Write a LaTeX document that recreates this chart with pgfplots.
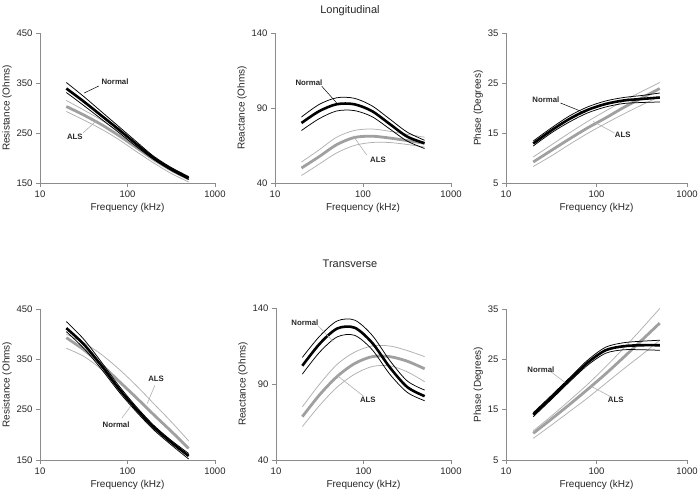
\documentclass[border=0pt]{standalone}
\usepackage{pgfplots}
\pgfplotsset{compat=1.18}
\usepackage{fontspec}
\setmainfont{Liberation Sans}
\definecolor{alsthick}{HTML}{A0A0A0}
\definecolor{alsthin}{HTML}{B0B0B0}
\definecolor{axgray}{HTML}{8C8C8C}
\tikzset{
  nm/.style={black, line width=2.6pt, smooth},
  nb/.style={black, line width=0.75pt, smooth},
  am/.style={alsthick, line width=2.8pt, smooth},
  ab/.style={alsthin, line width=0.75pt, smooth},
  lab/.style={font=\fontsize{7.8}{9}\selectfont\bfseries, text=black!85},
}
\begin{document}
\begin{tikzpicture}
\path[use as bounding box] (0,0) rectangle (699pt,498pt);
\node[font=\fontsize{11}{13}\selectfont, text=black!85] at (350pt,487pt) {Longitudinal};
\node[font=\fontsize{11}{13}\selectfont, text=black!85] at (350pt,234pt) {Transverse};

% ---------- Top left: Resistance, Longitudinal
\begin{axis}[scale only axis, xmode=log, xmin=10, xmax=1000,
    axis x line*=bottom, axis y line*=left,
    axis line style={axgray, line width=0.9pt},
    tick style={axgray, line width=0.9pt},
    major tick length=4pt, tick align=outside,
    xtick={10,100,1000}, xticklabels={10,100,1000}, xminorticks=false, yminorticks=false,
    ticklabel style={font=\fontsize{9.5}{11}\selectfont, text=black!85},
    xlabel style={font=\fontsize{10}{12}\selectfont, text=black!85, yshift=1pt},
    ylabel style={font=\fontsize{10}{12}\selectfont, text=black!85, yshift=-2pt},
    xlabel={Frequency (kHz)}, clip=false,
  at={(40pt,315pt)}, anchor=south west, width=175pt, height=150pt,
  ymin=150, ymax=450, ytick={150,250,350,450}, yticklabels={150,250,350,450}, ylabel={Resistance (Ohms)}]
\addplot[ab] coordinates {(20,315)(31.6,296)(50.1,276)(79.4,253)(125.9,228)(199.5,202)(316.2,180)(500,161)};
\addplot[ab] coordinates {(20,293)(31.6,276)(50.1,258)(79.4,237)(125.9,213)(199.5,190)(316.2,169)(500,152)};
\addplot[am] coordinates {(20,303)(31.6,286)(50.1,267)(79.4,245)(125.9,221)(199.5,197)(316.2,176)(500,158)};
\addplot[nb] coordinates {(20,351)(31.6,323)(50.1,293)(79.4,263)(125.9,233)(199.5,203.5)(316.2,181)(500,163)};
\addplot[nb] coordinates {(20,331)(31.6,305)(50.1,278)(79.4,251)(125.9,223)(199.5,197)(316.2,175)(500,157)};
\addplot[nm] coordinates {(20,339)(31.6,313)(50.1,285)(79.4,257)(125.9,228)(199.5,200)(316.2,178)(500,160)};
\draw[black, line width=0.5pt] (axis cs:47,344) -- (axis cs:32,330);
\node[lab] at (axis cs:72,352) {Normal};
\draw[alsthin, line width=0.6pt] (axis cs:31,250) -- (axis cs:45,276);
\node[lab] at (axis cs:25,242) {ALS};
\end{axis}

% ---------- Top middle: Reactance, Longitudinal
\begin{axis}[scale only axis, xmode=log, xmin=10, xmax=1000,
    axis x line*=bottom, axis y line*=left,
    axis line style={axgray, line width=0.9pt},
    tick style={axgray, line width=0.9pt},
    major tick length=4pt, tick align=outside,
    xtick={10,100,1000}, xticklabels={10,100,1000}, xminorticks=false, yminorticks=false,
    ticklabel style={font=\fontsize{9.5}{11}\selectfont, text=black!85},
    xlabel style={font=\fontsize{10}{12}\selectfont, text=black!85, yshift=1pt},
    ylabel style={font=\fontsize{10}{12}\selectfont, text=black!85, yshift=-2pt},
    xlabel={Frequency (kHz)}, clip=false,
  at={(275pt,315pt)}, anchor=south west, width=176pt, height=150pt,
  ymin=40, ymax=140, ytick={40,90,140}, yticklabels={40,90,140}, ylabel={Reactance (Ohms)}]
\addplot[ab] coordinates {(20,54)(31.6,62)(50.1,70.5)(79.4,75)(125.9,76)(199.5,74.5)(316.2,72.5)(500,70.5)};
\addplot[ab] coordinates {(20,45)(31.6,52.5)(50.1,60)(79.4,65)(125.9,67)(199.5,67)(316.2,65.7)(500,64)};
\addplot[am] coordinates {(20,50)(31.6,57.5)(50.1,65.5)(79.4,70.3)(125.9,71.2)(199.5,70)(316.2,68.3)(500,66.5)};
\addplot[nb] coordinates {(20,84)(31.6,92.3)(50.1,96.8)(79.4,96.5)(125.9,91.5)(199.5,82.8)(316.2,74)(500,68.5)};
\addplot[nb] coordinates {(20,75)(31.6,82.8)(50.1,88)(79.4,88.3)(125.9,84.3)(199.5,76.2)(316.2,68)(500,63)};
\addplot[nm] coordinates {(20,80)(31.6,87.8)(50.1,92.5)(79.4,92.5)(125.9,88)(199.5,79.5)(316.2,71)(500,66.5)};
\draw[black, line width=0.5pt] (axis cs:34,104.5) -- (axis cs:50,93.5);
\node[lab] at (axis cs:24.3,106.7) {Normal};
\draw[alsthin, line width=0.6pt] (axis cs:110,58.7) -- (axis cs:77,71.5);
\node[lab] at (axis cs:148,55.3) {ALS};
\end{axis}

% ---------- Top right: Phase, Longitudinal
\begin{axis}[scale only axis, xmode=log, xmin=10, xmax=1000,
    axis x line*=bottom, axis y line*=left,
    axis line style={axgray, line width=0.9pt},
    tick style={axgray, line width=0.9pt},
    major tick length=4pt, tick align=outside,
    xtick={10,100,1000}, xticklabels={10,100,1000}, xminorticks=false, yminorticks=false,
    ticklabel style={font=\fontsize{9.5}{11}\selectfont, text=black!85},
    xlabel style={font=\fontsize{10}{12}\selectfont, text=black!85, yshift=1pt},
    ylabel style={font=\fontsize{10}{12}\selectfont, text=black!85, yshift=-2pt},
    xlabel={Frequency (kHz)}, clip=false,
  at={(506pt,315pt)}, anchor=south west, width=181pt, height=150pt,
  ymin=5, ymax=35, ytick={5,15,25,35}, yticklabels={5,15,25,35}, ylabel={Phase (Degrees)}]
\addplot[ab] coordinates {(20,10.2)(31.6,12.6)(50.1,15.0)(79.4,17.3)(125.9,19.4)(199.5,21.4)(316.2,23.3)(500,25.1)};
\addplot[ab] coordinates {(20,8.3)(31.6,10.4)(50.1,12.7)(79.4,14.9)(125.9,16.9)(199.5,18.8)(316.2,20.6)(500,22.3)};
\addplot[am] coordinates {(20,9.2)(31.6,11.5)(50.1,13.8)(79.4,16.0)(125.9,18.0)(199.5,20.1)(316.2,22.0)(500,23.9)};
\addplot[nb] coordinates {(20,13.4)(31.6,16.0)(50.1,18.4)(79.4,20.2)(125.9,21.4)(199.5,22.1)(316.2,22.5)(500,23.0)};
\addplot[nb] coordinates {(20,12.4)(31.6,15.0)(50.1,17.2)(79.4,19.0)(125.9,20.2)(199.5,20.9)(316.2,21.1)(500,21.2)};
\addplot[nm] coordinates {(20,12.9)(31.6,15.5)(50.1,17.8)(79.4,19.6)(125.9,20.8)(199.5,21.5)(316.2,21.8)(500,22.1)};
\draw[black, line width=0.5pt] (axis cs:40,21.0) -- (axis cs:75,19.0);
\node[lab] at (axis cs:27.6,21.6) {Normal};
\draw[alsthin, line width=0.6pt] (axis cs:158,15.0) -- (axis cs:92,17.3);
\node[lab] at (axis cs:195,14.6) {ALS};
\end{axis}

% ---------- Bottom left: Resistance, Transverse
\begin{axis}[scale only axis, xmode=log, xmin=10, xmax=1000,
    axis x line*=bottom, axis y line*=left,
    axis line style={axgray, line width=0.9pt},
    tick style={axgray, line width=0.9pt},
    major tick length=4pt, tick align=outside,
    xtick={10,100,1000}, xticklabels={10,100,1000}, xminorticks=false, yminorticks=false,
    ticklabel style={font=\fontsize{9.5}{11}\selectfont, text=black!85},
    xlabel style={font=\fontsize{10}{12}\selectfont, text=black!85, yshift=1pt},
    ylabel style={font=\fontsize{10}{12}\selectfont, text=black!85, yshift=-2pt},
    xlabel={Frequency (kHz)}, clip=false,
  at={(40pt,38pt)}, anchor=south west, width=175pt, height=151pt,
  ymin=150, ymax=450, ytick={150,250,350,450}, yticklabels={150,250,350,450}, ylabel={Resistance (Ohms)}]
\addplot[ab] coordinates {(20,400)(31.6,383)(50.1,360)(79.4,331)(125.9,298)(199.5,262)(316.2,226)(500,188)};
\addplot[ab] coordinates {(20,372)(31.6,356)(50.1,330)(79.4,292)(125.9,255)(199.5,218)(316.2,188)(500,160)};
\addplot[am] coordinates {(20,393)(31.6,369)(50.1,340)(79.4,307)(125.9,274)(199.5,240)(316.2,207)(500,173)};
\addplot[nb] coordinates {(20,425)(31.6,390)(50.1,345)(79.4,298)(125.9,256)(199.5,219)(316.2,189)(500,163)};
\addplot[nb] coordinates {(20,405)(31.6,372)(50.1,331)(79.4,286)(125.9,246)(199.5,210)(316.2,180)(500,152)};
\addplot[nm] coordinates {(20,412)(31.6,380)(50.1,338)(79.4,292)(125.9,251)(199.5,215)(316.2,185)(500,158)};
\draw[alsthin, line width=0.6pt] (axis cs:86,233) -- (axis cs:110,258);
\node[lab] at (axis cs:74,219.5) {Normal};
\draw[alsthin, line width=0.6pt] (axis cs:205,298) -- (axis cs:168,262);
\node[lab] at (axis cs:212,311) {ALS};
\end{axis}

% ---------- Bottom middle: Reactance, Transverse
\begin{axis}[scale only axis, xmode=log, xmin=10, xmax=1000,
    axis x line*=bottom, axis y line*=left,
    axis line style={axgray, line width=0.9pt},
    tick style={axgray, line width=0.9pt},
    major tick length=4pt, tick align=outside,
    xtick={10,100,1000}, xticklabels={10,100,1000}, xminorticks=false, yminorticks=false,
    ticklabel style={font=\fontsize{9.5}{11}\selectfont, text=black!85},
    xlabel style={font=\fontsize{10}{12}\selectfont, text=black!85, yshift=1pt},
    ylabel style={font=\fontsize{10}{12}\selectfont, text=black!85, yshift=-2pt},
    xlabel={Frequency (kHz)}, clip=false,
  at={(276pt,38pt)}, anchor=south west, width=175pt, height=152pt,
  ymin=40, ymax=140, ytick={40,90,140}, yticklabels={40,90,140}, ylabel={Reactance (Ohms)}]
\addplot[ab] coordinates {(20,75)(31.6,90)(50.1,103)(79.4,111)(125.9,115)(199.5,115)(316.2,112)(500,108)};
\addplot[ab] coordinates {(20,62)(31.6,76)(50.1,88)(79.4,96.5)(125.9,101.5)(199.5,102)(316.2,98)(500,91.5)};
\addplot[am] coordinates {(20,68.5)(31.6,83)(50.1,95)(79.4,103.5)(125.9,108)(199.5,108)(316.2,105)(500,100)};
\addplot[nb] coordinates {(20,107.5)(31.6,121.5)(50.1,131.5)(79.4,132)(125.9,122)(199.5,105.5)(316.2,92)(500,86)};
\addplot[nb] coordinates {(20,96.5)(31.6,111)(50.1,121)(79.4,122)(125.9,112.5)(199.5,96.5)(316.2,84.5)(500,79)};
\addplot[nm] coordinates {(20,102)(31.6,116.5)(50.1,126.5)(79.4,127)(125.9,117)(199.5,101)(316.2,88)(500,82)};
\draw[alsthin, line width=0.6pt] (axis cs:30,128.5) -- (axis cs:45,118);
\node[lab] at (axis cs:21.4,130.1) {Normal};
\draw[alsthin, line width=0.6pt] (axis cs:100,82) -- (axis cs:49,96);
\node[lab] at (axis cs:112,79.5) {ALS};
\end{axis}

% ---------- Bottom right: Phase, Transverse
\begin{axis}[scale only axis, xmode=log, xmin=10, xmax=1000,
    axis x line*=bottom, axis y line*=left,
    axis line style={axgray, line width=0.9pt},
    tick style={axgray, line width=0.9pt},
    major tick length=4pt, tick align=outside,
    xtick={10,100,1000}, xticklabels={10,100,1000}, xminorticks=false, yminorticks=false,
    ticklabel style={font=\fontsize{9.5}{11}\selectfont, text=black!85},
    xlabel style={font=\fontsize{10}{12}\selectfont, text=black!85, yshift=1pt},
    ylabel style={font=\fontsize{10}{12}\selectfont, text=black!85, yshift=-2pt},
    xlabel={Frequency (kHz)}, clip=false,
  at={(506pt,38pt)}, anchor=south west, width=181pt, height=151pt,
  ymin=5, ymax=35, ytick={5,15,25,35}, yticklabels={5,15,25,35}, ylabel={Phase (Degrees)}]
\addplot[ab] coordinates {(20,10.8)(31.6,13.7)(50.1,16.8)(79.4,20.0)(125.9,23.5)(199.5,27.2)(316.2,31.1)(500,35.1)};
\addplot[ab] coordinates {(20,9.3)(31.6,11.9)(50.1,14.6)(79.4,17.3)(125.9,20.2)(199.5,23.1)(316.2,25.9)(500,28.8)};
\addplot[am] coordinates {(20,10.3)(31.6,13.1)(50.1,16.0)(79.4,19.0)(125.9,22.1)(199.5,25.4)(316.2,28.8)(500,32.2)};
\addplot[nb] coordinates {(20,14.4)(31.6,17.8)(50.1,21.3)(79.4,24.8)(125.9,27.4)(199.5,28.3)(316.2,28.6)(500,28.8)};
\addplot[nb] coordinates {(20,13.6)(31.6,17.0)(50.1,20.5)(79.4,23.8)(125.9,26.2)(199.5,26.9)(316.2,26.9)(500,26.8)};
\addplot[nm] coordinates {(20,14)(31.6,17.4)(50.1,20.9)(79.4,24.3)(125.9,26.8)(199.5,27.6)(316.2,27.8)(500,27.8)};
\draw[alsthin, line width=0.6pt] (axis cs:31,22.6) -- (axis cs:45,20.4);
\node[lab] at (axis cs:24.3,22.9) {Normal};
\draw[alsthin, line width=0.6pt] (axis cs:150,17.4) -- (axis cs:88,19.6);
\node[lab] at (axis cs:163,16.9) {ALS};
\end{axis}
\end{tikzpicture}
\end{document}
